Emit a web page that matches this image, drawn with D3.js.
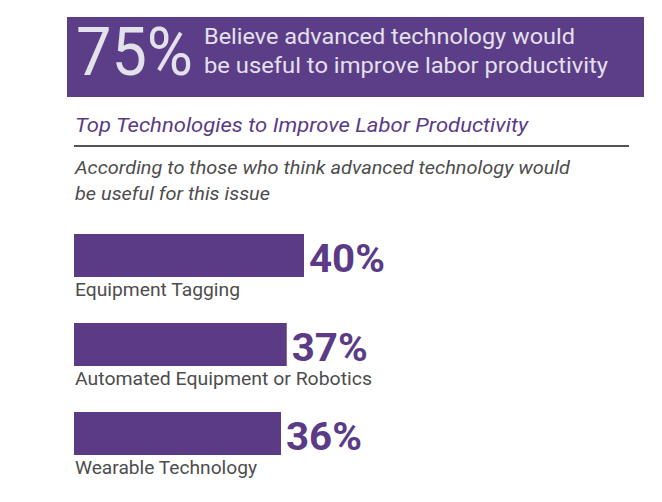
<!DOCTYPE html>
<meta charset="utf-8">
<style>
body {
  margin: 0;
  background: #fff;
}
svg text {
  font-family: Roboto, "Noto Sans", sans-serif;
}
</style>
<body>
<script src="https://cdn.jsdelivr.net/npm/d3@7"></script>
<script>
// values
var headlineValue = "75%";
var headlineLines = ["Believe advanced technology would", "be useful to improve labor productivity"];
var title = "Top Technologies to Improve Labor Productivity";
var subtitleLines = ["According to those who think advanced technology would", "be useful for this issue"];
var categories = ["Equipment Tagging", "Automated Equipment or Robotics", "Wearable Technology"];
var values = [40, 37, 36];

var purple = "#5b3b86";
var width = 662, height = 502;

var svg = d3.select("body").append("svg")
  .attr("width", width)
  .attr("height", height);

// header band
svg.append("rect")
  .attr("x", 67).attr("y", 17)
  .attr("width", 577).attr("height", 80)
  .attr("fill", "#5c3d88");

svg.append("text")
  .attr("x", 76).attr("y", 75)
  .attr("fill", "#e3e1ea")
  .attr("font-size", 66)
  .attr("textLength", 117)
  .attr("lengthAdjust", "spacingAndGlyphs")
  .text(headlineValue);

var headLens = [371, 404];
svg.selectAll(".head")
  .data(headlineLines)
  .enter().append("text")
  .attr("class", "head")
  .attr("x", 204)
  .attr("y", function(d, i) { return 44 + i * 29; })
  .attr("fill", "#e4e0ec")
  .attr("font-size", 22)
  .attr("textLength", function(d, i) { return headLens[i]; })
  .attr("lengthAdjust", "spacingAndGlyphs")
  .text(function(d) { return d; });

// title + rule
svg.append("text")
  .attr("x", 75).attr("y", 132)
  .attr("fill", purple)
  .attr("font-size", 20)
  .attr("font-style", "italic")
  .attr("textLength", 453)
  .attr("lengthAdjust", "spacingAndGlyphs")
  .text(title);

svg.append("line")
  .attr("x1", 74).attr("x2", 629)
  .attr("y1", 146).attr("y2", 146)
  .attr("stroke", "#1a1a1a")
  .attr("stroke-width", 1.3);

var subLens = [495, 195];
svg.selectAll(".sub")
  .data(subtitleLines)
  .enter().append("text")
  .attr("class", "sub")
  .attr("x", 75)
  .attr("y", function(d, i) { return 174 + i * 26; })
  .attr("fill", "#4d4d4d")
  .attr("font-size", 19)
  .attr("font-style", "italic")
  .attr("textLength", function(d, i) { return subLens[i]; })
  .attr("lengthAdjust", "spacingAndGlyphs")
  .text(function(d) { return d; });

// bars
var x = d3.scaleLinear().domain([0, 100]).range([74, 649]);
var y = d3.scaleBand().domain(categories).range([234, 455]).paddingInner(0.517).paddingOuter(0);

var rows = svg.selectAll(".row")
  .data(categories)
  .enter().append("g")
  .attr("class", "row")
  .attr("transform", function(d) { return "translate(0," + y(d) + ")"; });

rows.append("rect")
  .attr("x", x(0))
  .attr("y", 0)
  .attr("width", function(d, i) { return x(values[i]) - x(0); })
  .attr("height", y.bandwidth())
  .attr("fill", purple);

rows.append("text")
  .attr("x", function(d, i) { return x(values[i]) + 5; })
  .attr("y", 38)
  .attr("fill", purple)
  .attr("font-size", 39)
  .attr("font-weight", 700)
  .attr("textLength", 76)
  .attr("lengthAdjust", "spacingAndGlyphs")
  .text(function(d, i) { return values[i] + "%"; });

var catLens = [165, 297, 182];
rows.append("text")
  .attr("x", 75)
  .attr("y", y.bandwidth() + 19)
  .attr("fill", "#4d4d4d")
  .attr("font-size", 18)
  .attr("textLength", function(d, i) { return catLens[i]; })
  .attr("lengthAdjust", "spacingAndGlyphs")
  .text(function(d) { return d; });
</script>
</body>
